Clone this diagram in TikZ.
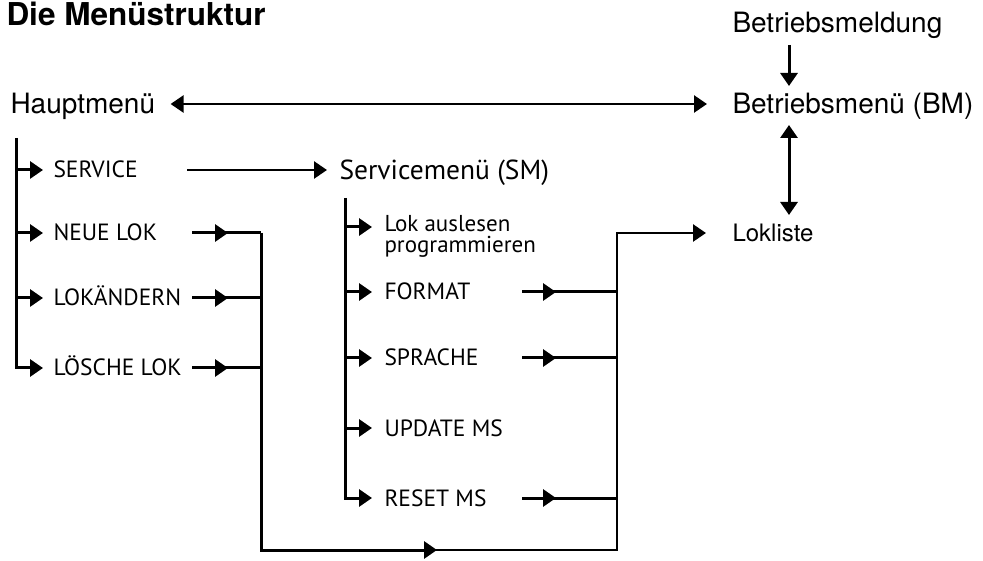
\documentclass[tikz,border=0pt]{standalone}
\usepackage{fontspec}
\setmainfont{TeX Gyre Heros}
\newfontfamily\itemfont{PT Sans}
\usetikzlibrary{arrows.meta,calc}

\tikzset{
  tip/.style={-{Triangle[length=13pt,width=17pt]}},
  tips/.style={{Triangle[length=13pt,width=17pt]}-{Triangle[length=13pt,width=17pt]}},
  menu/.style={anchor=west,inner sep=0pt,text height=20pt,text depth=0pt,
    font=\fontsize{28}{30}\selectfont},
  entry/.style={anchor=west,inner sep=0pt,text height=16pt,text depth=0pt,
    font=\itemfont\fontsize{23.5}{23.5}\selectfont}
}

\begin{document}
\begin{tikzpicture}[x=1pt,y=-1pt,line width=3pt]
        \useasboundingbox (0,0) rectangle (983,561);

        \node[anchor=base west,inner sep=0pt,font=\bfseries\fontsize{31.5}{33}\selectfont] (title) at (5,26) {Die Menüstruktur};

        % top level
        \node[menu] (haupt) at (9,104) {Hauptmenü};
        \node[menu] (meld) at (731,23) {Betriebsmeldung};
        \node[menu] (bm) at (731,104) {Betriebsmenü (BM)};
        \node[menu,text height=17pt,font=\fontsize{24}{26}\selectfont] (lokliste) at (731,233) {Lokliste};

        \draw[tips,line width=2.6pt] ($(haupt.east)+(14,0)$) -- ($(bm.west)+(-24,0)$);
        \draw[tip] ($(meld.west)+(58,22)$) -- ($(bm.west)+(58,-18)$);
        \draw[tips] ($(bm.west)+(58,21)$) -- ($(lokliste.west)+(58,-18)$);

        % main menu entries
        \node[entry] (service) at (52,170) {SERVICE};
        \node[entry] (neue) at (52,233) {NEUE LOK};
        \node[entry] (aendern) at (52,298) {LOKÄNDERN};
        \node[entry] (loesche) at (52,368) {LÖSCHE LOK};
        \coordinate (lt) at (16,138);

        \draw[tip,shorten >=9pt] (lt) |- (loesche.west);
        \foreach \n in {service,neue,aendern}
            \draw[tip,shorten >=9pt] (lt |- \n.west) -- (\n.west);

        % service menu
        \node[entry,font=\itemfont\fontsize{27.5}{27.5}\selectfont,text height=19pt] (sm) at (338,170) {Servicemenü (SM)};
        \draw[tip,line width=2.6pt] ($(service.west)+(135,0)$) -- ($(sm.west)+(-11,0)$);

        \node[anchor=base west,inner sep=0pt,font=\itemfont\fontsize{23}{20}\selectfont] (lokread) at (383,232) {Lok auslesen};
        \node[anchor=base west,inner sep=0pt,font=\itemfont\fontsize{23}{20}\selectfont] (lokprog) at (383,253) {programmieren};
        \node[entry] (format) at (383,292) {FORMAT};
        \node[entry] (sprache) at (383,358) {SPRACHE};
        \node[entry] (update) at (383,428) {UPDATE MS};
        \node[entry] (reset) at (383,498) {RESET MS};
        \coordinate (st) at (345,198);
        \coordinate (sr) at (345,227);

        \draw[tip,shorten >=11pt] (st) |- (reset.west);
        \draw[tip] (sr) -- ($(lokread.west |- sr)+(-11,0)$);
        \foreach \n in {format,sprache,update}
            \draw[tip,shorten >=11pt] (st |- \n.west) -- (\n.west);

        % return paths to the loco list
        \coordinate (jA) at (261,550);
        \coordinate (jB) at (617,550);
        \coordinate (jM) at (437,550);

        \foreach \n in {neue,aendern,loesche} {
            \draw[tip] ($(\n.west)+(140,0)$) -- ($(\n.west)+(176,0)$);
            \draw ($(\n.west)+(170,0)$) -- (\n.west -| jA);
        }
        \foreach \n in {format,sprache,reset} {
            \draw[tip] ($(\n.west)+(139,0)$) -- ($(\n.west)+(173,0)$);
            \draw ($(\n.west)+(167,0)$) -- (\n.west -| jB);
        }

        \draw (neue.west -| jA) -- (jA) -- ($(jM)+(-4,0)$);
        \draw[tip] (jA) -- (jM);
        \draw[tip,shorten >=25pt,line width=2.6pt] ($(jM)+(-6,0)$) -- (jB) |- (lokliste.west);

\end{tikzpicture}
\end{document}
